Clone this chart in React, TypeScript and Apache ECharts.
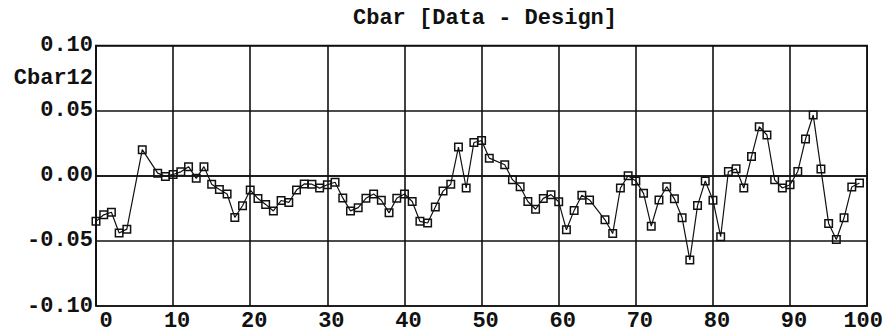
import React, { useEffect, useRef } from "react";
import * as echarts from "echarts";

// Sample positions along the span and the measured Cbar12 deviation (data - design)
const sampleX = [
  0, 1, 2, 3, 4, 6, 8, 9, 10, 11, 12, 13, 14, 15, 16, 17, 18, 19, 20, 21,
  22, 23, 24, 25, 26, 27, 28, 29, 30, 31, 32, 33, 34, 35, 36, 37, 38, 39, 40, 41,
  42, 43, 44, 45, 46, 47, 48, 49, 50, 51, 53, 54, 55, 56, 57, 58, 59, 60, 61, 62,
  63, 64, 66, 67, 68, 69, 70, 71, 72, 73, 74, 75, 76, 77, 78, 79, 80, 81, 82, 83,
  84, 85, 86, 87, 88, 89, 90, 91, 92, 93, 94, 95, 96, 97, 98, 99,
];

const cbar12 = [
  -0.035, -0.030, -0.028, -0.044, -0.041, 0.020, 0.002, -0.0005, 0.001, 0.003,
  0.007, -0.002, 0.007, -0.0065, -0.0105, -0.014, -0.032, -0.023, -0.011, -0.0175,
  -0.022, -0.027, -0.019, -0.0205, -0.011, -0.0063, -0.0065, -0.0095, -0.0069, -0.005,
  -0.017, -0.027, -0.0245, -0.0173, -0.014, -0.0188, -0.0285, -0.0173, -0.014, -0.0198,
  -0.035, -0.0363, -0.024, -0.0118, -0.0065, 0.022, -0.0094, 0.0255, 0.027, 0.0135,
  0.0084, -0.003, -0.0084, -0.0198, -0.0257, -0.0174, -0.0145, -0.020, -0.0415, -0.0266,
  -0.0149, -0.0186, -0.0338, -0.0444, -0.0094, 0.0, -0.004, -0.0135, -0.0387, -0.0186,
  -0.0084, -0.0177, -0.0323, -0.0646, -0.0229, -0.004, -0.0188, -0.0468, 0.0033, 0.0053,
  -0.0094, 0.0147, 0.0376, 0.0313, -0.0031, -0.0094, -0.0069, 0.0033, 0.0282, 0.0466,
  0.0051, -0.0366, -0.0489, -0.0323, -0.0086, -0.0056,
];

const chartTitle = "Cbar [Data - Design]";
const seriesName = "Cbar12";

const FONT_FAMILY = '"Liberation Mono", "DejaVu Sans Mono", monospace';
const FONT_SIZE = 22;
const INK = "#111";

export default function App() {
  const ref = useRef<HTMLDivElement>(null);

  useEffect(() => {
    if (!ref.current) return;
    const chart = echarts.init(ref.current, undefined, { renderer: "svg" });

    const points = sampleX.map((x, i) => [x, cbar12[i]]);
    const labelFont = {
      fontFamily: FONT_FAMILY,
      fontSize: FONT_SIZE,
      fontWeight: "bold" as const,
      color: INK,
    };

    chart.setOption({
      animation: false,
      backgroundColor: "#fff",
      grid: {
        left: 96,
        right: 22,
        top: 45.5,
        bottom: 25.5,
        show: true,
        borderColor: INK,
        borderWidth: 1.6,
        containLabel: false,
      },
      graphic: [
        {
          type: "text",
          x: 485,
          y: 18,
          style: {
            text: chartTitle,
            align: "center",
            verticalAlign: "middle",
            font: `bold ${FONT_SIZE}px ${FONT_FAMILY}`,
            fill: INK,
          },
        },
        {
          type: "text",
          x: 93,
          y: 78,
          style: {
            text: seriesName,
            align: "right",
            verticalAlign: "middle",
            font: `bold ${FONT_SIZE}px ${FONT_FAMILY}`,
            fill: INK,
          },
        },
      ],
      xAxis: {
        type: "value",
        min: 0,
        max: 100,
        interval: 10,
        axisLine: { show: true, lineStyle: { color: INK, width: 1.6 } },
        axisTick: { show: false },
        splitLine: { show: true, lineStyle: { color: INK, width: 1.6 } },
        axisLabel: {
          margin: 4,
          lineHeight: 22,
          ...labelFont,
          formatter: (v: number) => {
            if (v === 0) return "{first|0}";
            if (v === 100) return "{last|100}";
            return `{mid|${v}}`;
          },
          rich: {
            first: { ...labelFont, padding: [0, 0, 0, 20] },
            mid: { ...labelFont, padding: [0, 0, 0, 8] },
            last: { ...labelFont, padding: [0, 8, 0, 0] },
          },
        },
      },
      yAxis: {
        type: "value",
        min: -0.1,
        max: 0.1,
        interval: 0.05,
        axisLine: { show: true, lineStyle: { color: INK, width: 1.6 } },
        axisTick: { show: false },
        splitLine: { show: true, lineStyle: { color: INK, width: 1.6 } },
        axisLabel: {
          margin: 3,
          ...labelFont,
          formatter: (v: number) => v.toFixed(2),
        },
      },
      series: [
        {
          name: seriesName,
          type: "line",
          data: points,
          symbol: "rect",
          symbolSize: 7.5,
          showAllSymbol: true,
          lineStyle: { color: INK, width: 1.2 },
          itemStyle: {
            color: "rgba(255,255,255,0)",
            borderColor: INK,
            borderWidth: 1.5,
          },
          emphasis: { disabled: true },
        },
      ],
    });

    return () => chart.dispose();
  }, []);

  return (
    <div
      ref={ref}
      style={{ position: "fixed", left: 0, top: 0, width: 894, height: 332 }}
    />
  );
}
